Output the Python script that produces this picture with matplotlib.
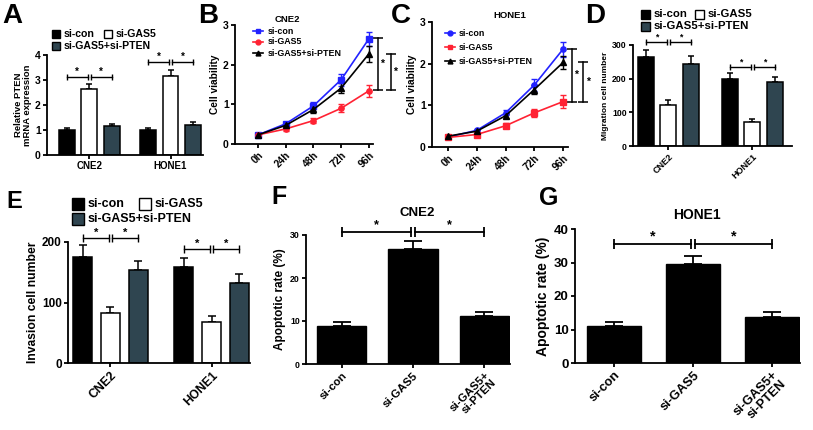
import matplotlib
matplotlib.use('Agg')
import matplotlib.pyplot as plt
import numpy as np
from matplotlib.patches import Rectangle
from matplotlib.lines import Line2D

plt.rcParams['font.family'] = ['Liberation Sans', 'DejaVu Sans']
plt.rcParams['font.weight'] = 'bold'
plt.rcParams['axes.labelweight'] = 'bold'
plt.rcParams['axes.titleweight'] = 'bold'

# ---------------- data ----------------
cells = ['CNE2', 'HONE1']
groups = ['si-con', 'si-GAS5', 'si-GAS5+si-PTEN']
timepoints = ['0h', '24h', '48h', '72h', '96h']
apop_labels = ['si-con', 'si-GAS5', 'si-GAS5+\nsi-PTEN']

# A: relative PTEN mRNA
pten_con = [1.00, 1.00]
pten_gas5 = [2.65, 3.15]
pten_both = [1.15, 1.20]
pten_con_err = [0.10, 0.08]
pten_gas5_err = [0.20, 0.25]
pten_both_err = [0.10, 0.12]

# B: CNE2 cell viability
cne2_con = [0.23, 0.51, 0.96, 1.62, 2.65]
cne2_gas5 = [0.23, 0.38, 0.59, 0.90, 1.34]
cne2_both = [0.23, 0.47, 0.87, 1.41, 2.27]
cne2_con_err = [0.03, 0.05, 0.09, 0.15, 0.18]
cne2_gas5_err = [0.03, 0.04, 0.06, 0.10, 0.15]
cne2_both_err = [0.03, 0.05, 0.08, 0.12, 0.20]

# C: HONE1 cell viability
hone1_con = [0.24, 0.40, 0.82, 1.49, 2.35]
hone1_gas5 = [0.23, 0.30, 0.51, 0.82, 1.09]
hone1_both = [0.26, 0.38, 0.75, 1.38, 2.03]
hone1_con_err = [0.03, 0.04, 0.06, 0.14, 0.18]
hone1_gas5_err = [0.03, 0.04, 0.06, 0.10, 0.15]
hone1_both_err = [0.03, 0.04, 0.05, 0.10, 0.15]

# D: migration
mig_con = [265, 200]
mig_gas5 = [123, 72]
mig_both = [245, 190]
mig_con_err = [20, 17]
mig_gas5_err = [13, 8]
mig_both_err = [22, 16]

# E: invasion
inv_con = [176, 158]
inv_gas5 = [83, 68]
inv_both = [154, 132]
inv_con_err = [19, 16]
inv_gas5_err = [10, 9]
inv_both_err = [15, 15]

# F, G: apoptosis
apop_cne2 = [8.9, 26.7, 11.1]
apop_cne2_err = [0.8, 2.0, 1.0]
apop_hone1 = [11.0, 29.6, 13.8]
apop_hone1_err = [1.1, 2.2, 1.3]

# ---------------- style ----------------
W, H = 813, 430
fig = plt.figure(figsize=(W / 100, H / 100), dpi=100)
DARK = '#2f4550'
BLUE = '#2222ff'
RED = '#ff2233'
bar_colors = ['black', 'white', DARK]


def add_ax(x0, y0, x1, y1):
    return fig.add_axes([x0 / W, 1 - y1 / H, (x1 - x0) / W, (y1 - y0) / H])


def style(ax, fs):
    for s in ['top', 'right']:
        ax.spines[s].set_visible(False)
    for s in ['left', 'bottom']:
        ax.spines[s].set_linewidth(1.3)
    ax.tick_params(direction='out', width=1.3, length=3, labelsize=fs, pad=1.5)


def fx(x):
    return x / W


def fy(y):
    return 1 - y / H


def legend_box(x, y, color, label, fs, box):
    fig.patches.append(Rectangle((fx(x), fy(y + box / 2)), box / W, box / H,
                                 transform=fig.transFigure, fc=color, ec='black', lw=1))
    fig.text(fx(x + box + 4), fy(y), label, va='center', ha='left', fontsize=fs)


def legend_line(x0, x1, y, color, marker, label, fs, tx):
    fig.lines.append(Line2D([fx(x0), fx(x1)], [fy(y), fy(y)], transform=fig.transFigure,
                            color=color, lw=1.2))
    fig.lines.append(Line2D([fx((x0 + x1) / 2)], [fy(y)], transform=fig.transFigure,
                            color=color, marker=marker, ms=3.5, lw=0))
    fig.text(fx(tx), fy(y), label, va='center', ha='left', fontsize=fs)


def hbracket(ax, x1, x2, y, fs, cap=5, lw=1.0):
    ax.plot([x1, x2], [y, y], color='black', lw=lw, marker='|', ms=cap, mew=lw, clip_on=False)
    ax.text((x1 + x2) / 2, y, '*', ha='center', va='bottom', fontsize=fs, clip_on=False)


def vbracket(ax, x, y1, y2, fs, lw=1.1):
    ax.plot([x, x], [y1, y2], color='black', lw=lw, marker='_', ms=7, mew=lw, clip_on=False)
    ax.text(x + 0.08, (y1 + y2) / 2, '*', ha='left', va='center', fontsize=fs, clip_on=False)


def grouped(ax, means, errs, width, off, cap, bry, fs_star, gap, capm=5):
    x = np.arange(len(cells))
    for i, (m, e, c) in enumerate(zip(means, errs, bar_colors)):
        xi = x + (i - 1) * off
        ax.bar(xi, m, width, color=c, edgecolor='black', lw=1.1, zorder=2)
        ax.errorbar(xi, m, yerr=[np.zeros(len(m)), e], fmt='none', ecolor='black',
                    elinewidth=1.1, capsize=cap, capthick=1.1, zorder=1)
    for g in range(len(cells)):
        hbracket(ax, g - off, g - gap, bry[g], fs_star, capm)
        hbracket(ax, g + gap, g + off, bry[g], fs_star, capm)
    ax.set_xticks(x)


# ---------------- A ----------------
axA = add_ax(47, 55, 203, 155)
style(axA, 7.5)
grouped(axA, [pten_con, pten_gas5, pten_both], [pten_con_err, pten_gas5_err, pten_both_err],
        0.196, 0.276, 2.5, [3.13, 3.73], 7, 0.018)
axA.set_xlim(-0.52, 1.40)
axA.set_ylim(0, 4)
axA.set_yticks([0, 1, 2, 3, 4])
axA.set_xticklabels(cells, fontsize=7)
axA.set_ylabel('Relative PTEN\nmRNA expression', fontsize=6.8, labelpad=2, linespacing=1.0)
legend_box(52, 34, 'black', 'si-con', 7.6, 8)
legend_box(104, 34, 'white', 'si-GAS5', 7.6, 8)
legend_box(52, 46, DARK, 'si-GAS5+si-PTEN', 7.6, 8)

# ---------------- B / C ----------------
def viability(ax, series, errs, markers, brk, fs=7.5):
    style(ax, fs)
    t = np.arange(len(timepoints))
    for m, e, c, mk in zip(series, errs, [BLUE, RED, 'black'], markers):
        ax.errorbar(t, m, yerr=e, color=c, lw=1.2, marker=mk, ms=3.8, capsize=2,
                    elinewidth=1.0, capthick=1.0)
    ax.set_ylim(0, 3)
    ax.set_yticks([0, 1, 2, 3])
    ax.set_xticks(t)
    ax.set_xticklabels(timepoints, rotation=45, ha='right', rotation_mode='anchor', fontsize=7.2)
    ax.set_ylabel('Cell viability', fontsize=7.3, labelpad=2)
    for (x, y1, y2) in brk:
        vbracket(ax, x, y1, y2, 7.5)


axB = add_ax(235, 25, 373, 144)
viability(axB, [cne2_con, cne2_gas5, cne2_both], [cne2_con_err, cne2_gas5_err, cne2_both_err],
          ['s', 'o', '^'], [(4.32, 1.37, 2.68), (4.79, 1.37, 2.28)])
axB.set_xlim(-0.83, 4.15)
fig.text(fx(287), fy(20), 'CNE2', ha='center', va='center', fontsize=6.8)
legend_line(253, 263, 31, BLUE, 's', 'si-con', 6.4, 268)
legend_line(253, 263, 42, RED, 'o', 'si-GAS5', 6.4, 268)
legend_line(253, 263, 53, 'black', '^', 'si-GAS5+si-PTEN', 6.4, 268)

axC = add_ax(432, 22, 568, 147)
viability(axC, [hone1_con, hone1_gas5, hone1_both], [hone1_con_err, hone1_gas5_err, hone1_both_err],
          ['o', 's', '^'], [(4.3, 1.09, 2.35), (4.7, 1.09, 2.04)])
axC.set_xlim(-0.56, 4.17)
fig.text(fx(510), fy(15), 'HONE1', ha='center', va='center', fontsize=6.8)
legend_line(445, 455, 33, BLUE, 'o', 'si-con', 6.4, 459)
legend_line(445, 455, 47, RED, 's', 'si-GAS5', 6.4, 459)
legend_line(445, 455, 61, 'black', '^', 'si-GAS5+si-PTEN', 6.4, 459)

# ---------------- D ----------------
axD = add_ax(633, 45, 792, 146)
style(axD, 6.3)
grouped(axD, [mig_con, mig_gas5, mig_both], [mig_con_err, mig_gas5_err, mig_both_err],
        0.19, 0.27, 2.5, [310, 235], 6.3, 0.018, 4.5)
axD.set_xlim(-0.42, 1.47)
axD.set_ylim(0, 300)
axD.set_yticks([0, 100, 200, 300])
axD.set_xticklabels(cells, rotation=45, ha='right', rotation_mode='anchor', fontsize=6.5)
axD.set_ylabel('Migration cell number', fontsize=6, labelpad=2)
legend_box(641, 14, 'black', 'si-con', 8.2, 9)
legend_box(695, 14, 'white', 'si-GAS5', 8.2, 9)
legend_box(641, 26, DARK, 'si-GAS5+si-PTEN', 8.2, 9)

# ---------------- E ----------------
axE = add_ax(68, 242, 250, 363)
style(axE, 8.5)
grouped(axE, [inv_con, inv_gas5, inv_both], [inv_con_err, inv_gas5_err, inv_both_err],
        0.19, 0.275, 3, [207, 188], 8, 0.015, 6)
axE.set_xlim(-0.42, 1.38)
axE.set_ylim(0, 200)
axE.set_yticks([0, 100, 200])
axE.set_xticklabels(cells, rotation=45, ha='right', rotation_mode='anchor', fontsize=8.8)
axE.set_ylabel('Invasion cell number', fontsize=8.7, labelpad=2)
legend_box(72, 204, 'black', 'si-con', 9, 12)
legend_box(139, 204, 'white', 'si-GAS5', 9, 12)
legend_box(72, 219, DARK, 'si-GAS5+si-PTEN', 9, 12)


# ---------------- F / G ----------------
def apoptosis(ax, vals, errs, ylim, yticks, bry, fs_tick, fs_lab, fs_x, title, title_fs):
    style(ax, fs_tick)
    x = np.arange(len(apop_labels))
    ax.bar(x, vals, 0.69, color='black', edgecolor='black', zorder=2)
    ax.errorbar(x, vals, yerr=[np.zeros(len(vals)), errs], fmt='none', ecolor='black',
                elinewidth=1.3, capsize=6.5, capthick=1.3, zorder=1)
    ax.set_xlim(-0.5, 2.36)
    ax.set_ylim(*ylim)
    ax.set_yticks(yticks)
    ax.set_xticks(x)
    ax.set_xticklabels(apop_labels, rotation=45, ha='right', rotation_mode='anchor',
                       fontsize=fs_x, linespacing=1.0)
    ax.set_ylabel('Apoptotic rate (%)', fontsize=fs_lab, labelpad=3)
    hbracket(ax, 0, 0.97, bry, fs_x + 1, 7, 1.3)
    hbracket(ax, 1.03, 2, bry, fs_x + 1, 7, 1.3)
    fig.text(fx(title[0]), fy(title[1]), title[2], ha='center', va='center', fontsize=title_fs)


axF = add_ax(306, 235, 510, 364)
apoptosis(axF, apop_cne2, apop_cne2_err, (0, 30), [0, 10, 20, 30], 30.8, 6.3, 8.5, 8.2,
          (417, 213, 'CNE2'), 9.5)

axG = add_ax(575, 229, 800, 363)
apoptosis(axG, apop_hone1, apop_hone1_err, (0, 40), [0, 10, 20, 30, 40], 35.6, 9.5, 10, 9.3,
          (697, 215, 'HONE1'), 10)

# ---------------- panel letters ----------------
for lab, x, y, fs in [('A', 2, 16, 20), ('B', 198, 16, 20), ('C', 391, 16, 20),
                      ('D', 585, 16, 20), ('E', 6, 201, 17), ('F', 271, 197, 18),
                      ('G', 539, 198, 18)]:
    fig.text(fx(x), fy(y), lab, ha='left', va='center', fontsize=fs, fontweight='bold')

fig.savefig('out.png', dpi=100)
